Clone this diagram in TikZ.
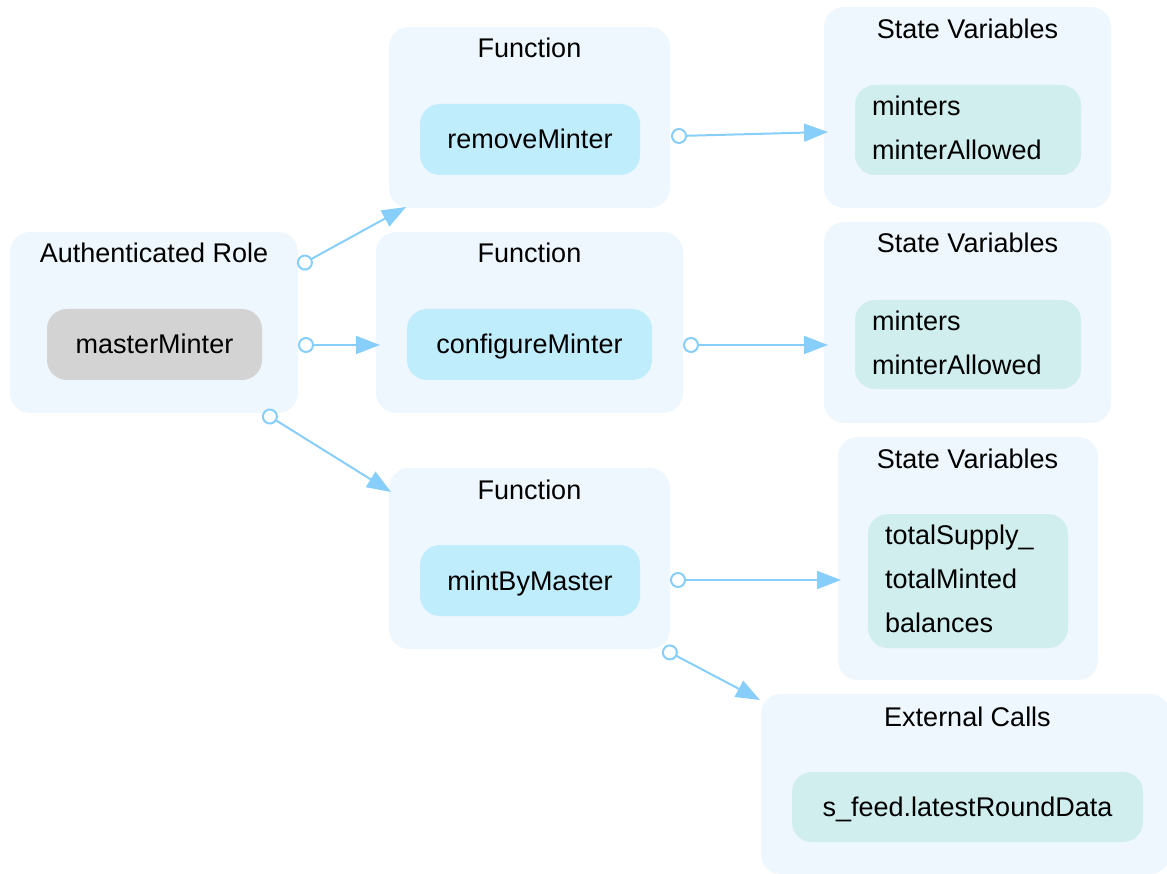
\documentclass[tikz,border=0pt]{standalone}
\usepackage{fontspec}
\setmainfont{Liberation Sans}
\usetikzlibrary{arrows.meta}

\definecolor{clusterbg}{HTML}{EEF6FE}
\definecolor{funcfill}{HTML}{C0EDFC}
\definecolor{varfill}{HTML}{D1EEEE}
\definecolor{rolefill}{HTML}{D3D3D3}
\definecolor{edgeblue}{HTML}{87CEFA}

% extra depth under the last line of a variable list
\newcommand{\listpad}{\rule[-4pt]{0pt}{4pt}}

\tikzset{
  cluster/.style={rectangle, rounded corners=20pt, fill=clusterbg, draw=none, inner sep=0pt},
  title/.style={anchor=base, inner sep=0pt, font=\fontsize{27}{32}\selectfont},
  inner/.style={rectangle, rounded corners=20pt, draw=none, inner sep=0pt,
    font=\fontsize{27}{32}\selectfont, text height=20pt, text depth=1pt},
  varlist/.style={rectangle, rounded corners=20pt, draw=none, fill=varfill,
    inner xsep=17pt, inner ysep=0pt, align=left,
    font=\fontsize{27}{44}\selectfont},
  flow/.style={draw=edgeblue, line width=2pt,
    {Circle[length=16pt,width=16pt,fill=white]}-{Triangle[length=24pt,width=18pt]}}
}

\begin{document}
\begin{tikzpicture}[x=1pt, y=-1pt]
\useasboundingbox (0,0) rectangle (1167,874);

% clusters
\node[cluster, minimum width=288pt, minimum height=181pt] (role) at (154,322.5) {};
\node[cluster, minimum width=281pt, minimum height=181pt] (fnA) at (529.5,117.5) {};
\node[cluster, minimum width=307pt, minimum height=181pt] (fnB) at (529.5,322.5) {};
\node[cluster, minimum width=281pt, minimum height=181pt] (fnC) at (529.5,558.5) {};
\node[cluster, minimum width=287pt, minimum height=201pt] (svA) at (967.5,107.5) {};
\node[cluster, minimum width=287pt, minimum height=201pt] (svB) at (967.5,322.5) {};
\node[cluster, minimum width=260pt, minimum height=243pt] (svC) at (968,558.5) {};
\node[cluster, minimum width=409pt, minimum height=180pt] (ext) at (965.5,784) {};

% cluster titles
\node[title] (roleT) at (154,263) {Authenticated Role};
\node[title] (fnAT) at (529.5,58) {Function};
\node[title] (fnBT) at (529.5,263) {Function};
\node[title] (fnCT) at (529.5,499) {Function};
\node[title] (svAT) at (967.5,39) {State Variables};
\node[title] (svBT) at (967.5,253) {State Variables};
\node[title] (svCT) at (967.5,468) {State Variables};
\node[title] (extT) at (967.5,726) {External Calls};

% inner nodes
\node[inner, fill=rolefill, minimum width=215pt, minimum height=71pt] (master) at (154.5,344.5) {masterMinter};
\node[inner, fill=funcfill, minimum width=220pt, minimum height=71pt] (remove) at (530,139.5) {removeMinter};
\node[inner, fill=funcfill, minimum width=245pt, minimum height=71pt] (configure) at (529.5,344.5) {configureMinter};
\node[inner, fill=funcfill, minimum width=220pt, minimum height=71pt] (mint) at (530,580.5) {mintByMaster};
\node[varlist, text width=192pt, minimum height=90pt] (varsA) at (968,130) {minters\\minterAllowed\listpad};
\node[varlist, text width=192pt, minimum height=89pt] (varsB) at (968,344.5) {minters\\minterAllowed\listpad};
\node[varlist, text width=166pt, minimum height=134pt] (varsC) at (968,581) {totalSupply\_\\totalMinted\\balances\listpad};
\node[inner, fill=varfill, minimum width=351pt, minimum height=70pt] (feed) at (967.5,807) {s\_feed.latestRoundData};

% connector end points on the cluster borders
\coordinate (r1) at (297.9,266.4);
\coordinate (r2) at (298,345);
\coordinate (r3) at (263.1,412.3);
\coordinate (a1) at (406,207);
\coordinate (b1) at (380,345);
\coordinate (c1) at (391,492);
\coordinate (a2) at (671,136.2);
\coordinate (a3) at (828,132);
\coordinate (b2) at (683,345);
\coordinate (b3) at (828,345);
\coordinate (c2) at (670,580);
\coordinate (c3) at (841,580);
\coordinate (c4) at (662.8,648.7);
\coordinate (e1) at (760,700);

% connectors
\draw[flow] (r1) -- (a1);
\draw[flow] (r2) -- (b1);
\draw[flow] (r3) -- (c1);
\draw[flow] (a2) -- (a3);
\draw[flow] (b2) -- (b3);
\draw[flow] (c2) -- (c3);
\draw[flow] (c4) -- (e1);
\end{tikzpicture}
\end{document}
